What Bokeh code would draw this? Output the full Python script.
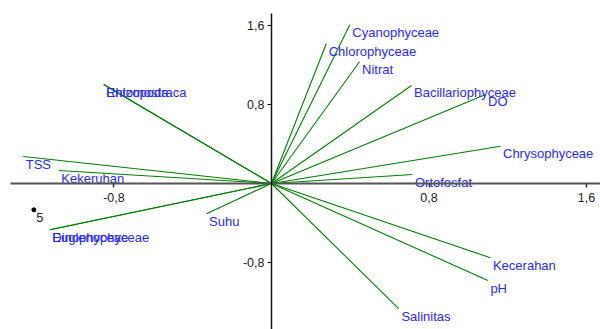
from bokeh.plotting import figure
from bokeh.models import ColumnDataSource, Range1d, FixedTicker, CustomJSTickFormatter
from bokeh.core.properties import value
from bokeh.embed import file_html
from bokeh.resources import INLINE

names = ["Cyanophyceae", "Chlorophyceae", "Nitrat", "Bacillariophyceae", "DO",
         "Chrysophyceae", "Ortofosfat", "Kecerahan", "pH", "Salinitas", "Suhu",
         "Dinophyceae", "Euglenophyceae", "Kekeruhan", "TSS", "Entomostraca", "Rhizopoda"]
pc1 = [0.398, 0.278, 0.447, 0.711, 1.087, 1.163, 0.716, 1.112, 1.099, 0.647, -0.330,
       -1.126, -1.126, -1.080, -1.261, -0.852, -0.852]
pc2 = [1.605, 1.413, 1.231, 0.991, 0.900, 0.377, 0.091, -0.751, -0.981, -1.267, -0.306,
       -0.468, -0.468, 0.131, 0.273, 1.001, 1.001]

point_labels = ["5"]
point_x = [-1.207]
point_y = [-0.266]

x_ticks = [-0.8, 0.8, 1.6]
y_ticks = [-0.8, 0.8, 1.6]

src = ColumnDataSource(dict(x0=[0.0] * len(names), y0=[0.0] * len(names),
                            x1=pc1, y1=pc2, name=names))
psrc = ColumnDataSource(dict(x=point_x, y=point_y, lab=point_labels))

p = figure(width=600, height=329, output_backend="svg", toolbar_location=None,
           x_range=Range1d(-1.3763, 1.6709), y_range=Range1d(-1.4762, 1.8504),
           min_border=0, min_border_left=0, min_border_right=0,
           min_border_top=0, min_border_bottom=0)
p.outline_line_color = None
p.grid.visible = False
p.background_fill_color = "white"

fmt = CustomJSTickFormatter(code="return tick.toFixed(1).replace('.', ',');")

p.xaxis.fixed_location = 0
p.yaxis.fixed_location = 0
p.xaxis.ticker = FixedTicker(ticks=x_ticks)
p.yaxis.ticker = FixedTicker(ticks=y_ticks)
p.xaxis.formatter = fmt
p.yaxis.formatter = fmt
p.xaxis.bounds = (-1.3255, 1.6709)
p.yaxis.bounds = (-1.4762, 1.715)
for ax in (p.xaxis, p.yaxis):
    ax.minor_tick_line_color = None
    ax.major_tick_in = 0
    ax.major_tick_out = 4
    ax.major_label_text_font = "Liberation Sans"
    ax.major_label_text_font_size = "12.5px"
    ax.major_label_text_color = "#222222"
p.xaxis.axis_line_color = "#555555"
p.xaxis.axis_line_width = 2
p.xaxis.major_tick_line_color = "#333333"
p.xaxis.major_tick_line_width = 1.5
p.xaxis.major_label_standoff = 5
p.yaxis.axis_line_color = "#111111"
p.yaxis.axis_line_width = 1.5
p.yaxis.major_tick_line_color = "#111111"
p.yaxis.major_label_standoff = 3

p.segment(x0="x0", y0="y0", x1="x1", y1="y1", source=src,
          line_color="#008000", line_width=1.1)
p.text(x="x1", y="y1", text="name", source=src, x_offset=2.5, y_offset=7.5,
       text_align="left", text_baseline="middle",
       text_font=value("Liberation Sans"), text_font_size="13px",
       text_color="#2a2aff")

p.scatter(x="x", y="y", source=psrc, size=4, color="black")
p.text(x="x", y="y", text="lab", source=psrc, x_offset=2.5, y_offset=7.5,
       text_align="left", text_baseline="middle",
       text_font=value("Liberation Sans"), text_font_size="13px",
       text_color="#222222")

open("out.html", "w").write(file_html(p, INLINE))
